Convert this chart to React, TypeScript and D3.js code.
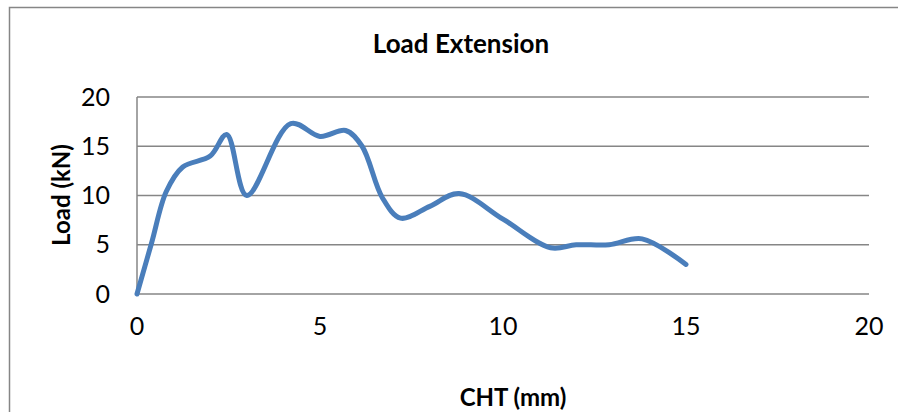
import React from "react";
import * as d3 from "d3";

const xValues = [0, 0.4, 0.8, 1.25, 2, 2.45, 3, 4.2, 5, 5.7, 6.15, 6.7, 7.2, 8, 8.8, 10, 11.3, 12, 12.9, 13.8, 15];
const yValues = [0, 5.2, 10.4, 12.9, 14, 16.2, 10, 17.3, 16, 16.6, 15, 9.8, 7.7, 8.9, 10.2, 7.6, 4.7, 5, 5, 5.6, 3];
const xTicks = [0, 5, 10, 15, 20];
const yTicks = [0, 5, 10, 15, 20];

const W = 898;
const H = 412;
const left = 137;
const right = 869;
const top = 97;
const bottom = 294;
const FONT = "Lato, 'Noto Sans', sans-serif";

export default function App() {
  const x = d3.scaleLinear().domain([0, 20]).range([left, right]);
  const y = d3.scaleLinear().domain([0, 20]).range([bottom, top]);
  const pts: [number, number][] = xValues.map((v, i) => [v, yValues[i]]);
  const line = d3
    .line<[number, number]>()
    .x((d) => x(d[0]))
    .y((d) => y(d[1]))
    .curve(d3.curveCatmullRom.alpha(0.5));
  return (
    <svg width={W} height={H} style={{ position: "absolute", left: 0, top: 0 }}>
      <rect x={0} y={0} width={W} height={H} fill="#fff" />
      <rect x={9.5} y={7.5} width={W + 20} height={H + 20} fill="none" stroke="#868686" strokeWidth={1.5} />
      {yTicks.map((t) => (
        <line key={"g" + t} x1={left} x2={right} y1={y(t)} y2={y(t)} stroke="#868686" strokeWidth={1.5} />
      ))}
      <line x1={left} x2={left} y1={top} y2={bottom} stroke="#868686" strokeWidth={1.5} />
      {yTicks.map((t) => (
        <text key={"yl" + t} x={110} y={y(t) + 8.5} textAnchor="end" fontFamily={FONT} fontSize={25} fill="#000">
          {t}
        </text>
      ))}
      {xTicks.map((t) => (
        <text key={"xl" + t} x={x(t)} y={335} textAnchor="middle" fontFamily={FONT} fontSize={25} fill="#000">
          {t}
        </text>
      ))}
      <path d={line(pts) || ""} fill="none" stroke="#4a7ebb" strokeWidth={5} strokeLinecap="round" strokeLinejoin="round" />
      <text x={461} y={53} textAnchor="middle" fontFamily={FONT} fontWeight="bold" fontSize={26} fill="#000">
        Load Extension
      </text>
      <text x={513} y={406} textAnchor="middle" fontFamily={FONT} fontWeight="bold" fontSize={24} fill="#000">
        CHT (mm)
      </text>
      <text
        transform={`translate(70,195) rotate(-90)`}
        textAnchor="middle"
        fontFamily={FONT}
        fontWeight="bold"
        fontSize={24}
        fill="#000"
      >
        Load (kN)
      </text>
    </svg>
  );
}
